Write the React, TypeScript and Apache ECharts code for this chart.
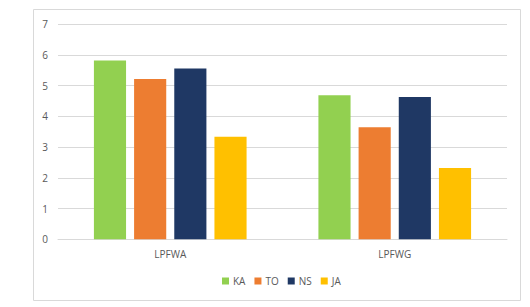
import React, { useEffect, useRef } from "react";
import * as echarts from "echarts";

const categories = ["LPFWA", "LPFWG"];
const seriesNames = ["KA", "TO", "NS", "JA"];
const kaValues = [5.82, 4.69];
const toValues = [5.22, 3.65];
const nsValues = [5.56, 4.63];
const jaValues = [3.34, 2.32];
const colors = ["#92d050", "#ed7d31", "#1f3864", "#ffc000"];
const yTicks = [0, 1, 2, 3, 4, 5, 6, 7];

export default function App() {
  const ref = useRef<HTMLDivElement>(null);
  useEffect(() => {
    if (!ref.current) return;
    const chart = echarts.init(ref.current, null, { renderer: "svg" });
    const values = [kaValues, toValues, nsValues, jaValues];
    const font = "'Open Sans', sans-serif";
    chart.setOption({
      animation: false,
      backgroundColor: "#ffffff",
      textStyle: { fontFamily: font },
      graphic: [
        {
          type: "rect",
          shape: { x: 33.5, y: 9.5, width: 487, height: 291 },
          style: { fill: "none", stroke: "#d9d9d9", lineWidth: 1 },
          silent: true,
        },
      ],
      legend: {
        data: seriesNames,
        left: 217,
        top: 271,
        itemWidth: 7,
        itemHeight: 7,
        itemGap: 9,
        icon: "rect",
        textStyle: { color: "#595959", fontSize: 10, fontFamily: font, padding: [0, 0, 0, -1] },
      },
      grid: { left: 58, right: 23, top: 24.3, bottom: 307 - 239.3, containLabel: false },
      xAxis: {
        type: "category",
        data: categories,
        axisLine: { show: true, lineStyle: { color: "#d9d9d9" } },
        axisTick: { show: false },
        axisLabel: { color: "#595959", fontSize: 10, margin: 10, fontFamily: font },
      },
      yAxis: {
        type: "value",
        min: yTicks[0],
        max: yTicks[yTicks.length - 1],
        interval: 1,
        axisLine: { show: false },
        axisTick: { show: false },
        axisLabel: { color: "#595959", fontSize: 10, margin: 10, fontFamily: font },
        splitLine: { lineStyle: { color: "#d9d9d9" } },
      },
      series: seriesNames.map((name, i) => ({
        name,
        type: "bar",
        data: values[i],
        itemStyle: { color: colors[i] },
        barGap: "25%",
        barCategoryGap: "32%",
      })),
    });
    return () => chart.dispose();
  }, []);
  return (
    <div
      ref={ref}
      style={{ position: "fixed", left: 0, top: 0, width: 530, height: 307 }}
    />
  );
}
